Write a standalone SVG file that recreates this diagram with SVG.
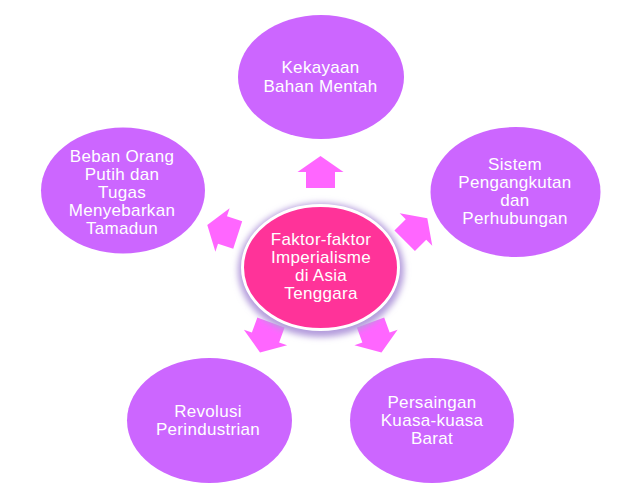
<svg xmlns="http://www.w3.org/2000/svg" width="641" height="496" viewBox="0 0 641 496">
<defs>
<style>
.outer{fill:#CC66FF;}
.arrow{fill:#FF66FF;}
.t{font-family:"Liberation Sans",Arial,sans-serif;font-size:17px;letter-spacing:0.3px;fill:#FFFFFF;text-anchor:middle;}
</style>
<path id="arr" d="M0,-16 L23,0 L14.5,0 L14.5,16 L-14.5,16 L-14.5,0 L-23,0 Z"/>
<filter id="glow" x="-20%" y="-20%" width="140%" height="140%">
<feGaussianBlur stdDeviation="3"/>
</filter>
</defs>
<rect width="641" height="496" fill="#FFFFFF"/>
<g id="connectors">
<use href="#arr" class="arrow" transform="translate(320.5,172)"/>
<use href="#arr" class="arrow" transform="translate(416,229.5) rotate(45)"/>
<use href="#arr" class="arrow" transform="translate(376,337.5) rotate(160)"/>
<use href="#arr" class="arrow" transform="translate(265.5,337.5) rotate(200)"/>
<use href="#arr" class="arrow" transform="translate(222.5,230) rotate(-72)"/>
</g>
<g id="node-top">
<ellipse class="outer" cx="321" cy="77" rx="83" ry="62"/>
<text class="t" x="320.5" y="73">Kekayaan</text>
<text class="t" x="320.5" y="92">Bahan Mentah</text>
</g>
<g id="node-right">
<ellipse class="outer" cx="515.5" cy="192" rx="85" ry="65"/>
<text class="t" x="515" y="170">Sistem</text>
<text class="t" x="515" y="188">Pengangkutan</text>
<text class="t" x="515" y="206">dan</text>
<text class="t" x="515" y="224">Perhubungan</text>
</g>
<g id="node-left">
<ellipse class="outer" cx="123" cy="190.5" rx="82" ry="63"/>
<text class="t" x="122" y="162">Beban Orang</text>
<text class="t" x="122" y="180">Putih dan</text>
<text class="t" x="122" y="198">Tugas</text>
<text class="t" x="122" y="216">Menyebarkan</text>
<text class="t" x="122" y="234">Tamadun</text>
</g>
<g id="node-bottom-left">
<ellipse class="outer" cx="209.5" cy="420.5" rx="82.5" ry="62.5"/>
<text class="t" x="208" y="417">Revolusi</text>
<text class="t" x="208" y="435">Perindustrian</text>
</g>
<g id="node-bottom-right">
<ellipse class="outer" cx="432" cy="420.5" rx="82" ry="62.5"/>
<text class="t" x="432" y="408">Persaingan</text>
<text class="t" x="432" y="426">Kuasa-kuasa</text>
<text class="t" x="432" y="444">Barat</text>
</g>
<g id="node-center">
<ellipse cx="321" cy="270" rx="83" ry="67" fill="#B49CDC" filter="url(#glow)"/>
<ellipse cx="320.5" cy="267.5" rx="78" ry="62" fill="#FF3399" stroke="#FFFFFF" stroke-width="3"/>
<text class="t" x="321" y="245">Faktor-faktor</text>
<text class="t" x="321" y="263">Imperialisme</text>
<text class="t" x="321" y="281">di Asia</text>
<text class="t" x="321" y="299">Tenggara</text>
</g>
</svg>
